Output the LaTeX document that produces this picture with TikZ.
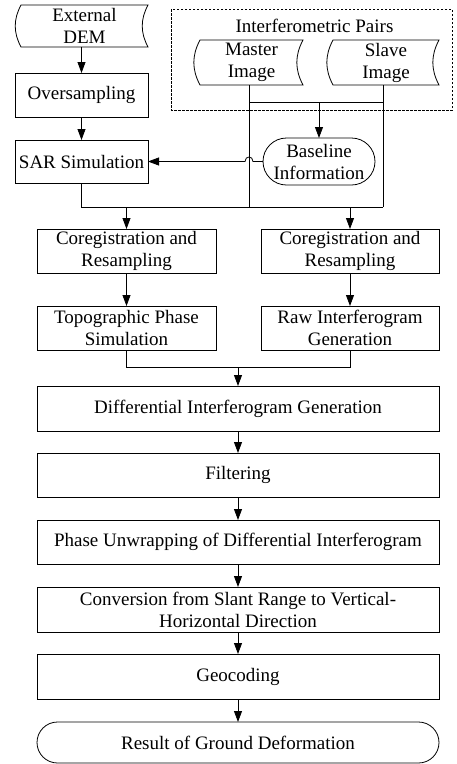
\documentclass[tikz,border=0pt]{standalone}
\usepackage{fontspec}
\setmainfont{Liberation Serif}
\usetikzlibrary{shapes.misc,arrows.meta}
\begin{document}
\begin{tikzpicture}[x=1pt,y=-1pt,
  font=\fontsize{19}{22}\selectfont,
  every node/.style={inner sep=0pt,outer sep=0pt,align=center},
  box/.style={draw,line width=0.8pt,rectangle},
  term/.style={draw,line width=0.8pt,rounded rectangle},
  stored/.style={rectangle},
  ln/.style={line width=0.8pt},
  arr/.style={line width=0.8pt,-{Triangle[length=11pt,width=8pt]}},
  dashbox/.style={line width=0.7pt,dash pattern=on 2.5pt off 1.5pt}]
\useasboundingbox (0,0) rectangle (457,764);
% dashed group
\draw[dashbox] (171,9) rectangle (452,110);
\node (pairs) at (314.5,26) {Interferometric Pairs};
% stored data shapes
\node[stored,minimum width=127pt,minimum height=42pt] (dem) at (84.5,26) {External\\DEM};
\node[stored,minimum width=103pt,minimum height=45pt] (master) at (251.5,62.5) {Master\\Image};
\node[stored,minimum width=106pt,minimum height=45pt] (slave) at (386,62.5) {Slave\\Image};
\foreach \n in {dem,master,slave}{
  \draw[ln] (\n.north west) to[bend right=28] (\n.south west) -- (\n.south east)
     to[bend left=28] (\n.north east) -- cycle;
}
% left column
\node[box,minimum width=133pt,minimum height=44pt] (over) at (81.5,95) {Oversampling};
\node[box,minimum width=133pt,minimum height=43pt] (sar) at (81.5,161.5) {SAR Simulation};
\node[term,minimum width=112pt,minimum height=47pt] (bl) at (319,161.5) {Baseline\\Information};
% two columns
\node[box,minimum width=179pt,minimum height=44pt] (coL) at (126.5,251) {Coregistration and\\Resampling};
\node[box,minimum width=178pt,minimum height=44pt] (coR) at (350,251) {Coregistration and\\Resampling};
\node[box,minimum width=179pt,minimum height=44pt] (topo) at (126.5,328) {Topographic Phase\\Simulation};
\node[box,minimum width=178pt,minimum height=44pt] (raw) at (350,328) {Raw Interferogram\\Generation};
% main column
\node[box,minimum width=402pt,minimum height=45pt] (diff) at (238,408.5) {Differential Interferogram Generation};
\node[box,minimum width=402pt,minimum height=44pt] (filt) at (238,475) {Filtering};
\node[box,minimum width=402pt,minimum height=44pt] (unw) at (238,542) {Phase Unwrapping of Differential Interferogram};
\node[box,minimum width=402pt,minimum height=45pt] (conv) at (238,609.5) {Conversion from Slant Range to Vertical-\\Horizontal Direction};
\node[box,minimum width=402pt,minimum height=45pt] (geo) at (238,676.5) {Geocoding};
\node[term,minimum width=402pt,minimum height=41pt] (res) at (238,742.5) {Result of Ground Deformation};
% connectors top
\draw[arr] (dem.south -| over.north) -- (over.north);
\draw[arr] (over) -- (sar);
\coordinate (mj) at (249,102);
\coordinate (sj) at (383,102);
\coordinate (mb) at (249,207);
\coordinate (sb) at (383,207);
\coordinate (lb) at (81.5,207);
\draw[ln] (mj |- master.south) -- (mb);
\draw[ln] (sj |- slave.south) -- (sb);
\draw[ln] (mj) -- (sj);
\draw[arr] (mj -| bl.north) -- (bl.north);
\coordinate (hopR) at (253,161.5);
\coordinate (hopL) at (245,161.5);
\draw[arr] (bl.west) -- (hopR) .. controls (253,155.5) and (245,155.5) .. (hopL) -- (sar.east);
\draw[ln] (sar.south) -- (lb) -- (sb);
\draw[arr] (lb -| coL.north) -- (coL.north);
\draw[arr] (lb -| coR.north) -- (coR.north);
\draw[arr] (coL) -- (topo);
\draw[arr] (coR) -- (raw);
\coordinate (mg) at (238,367);
\draw[ln] (topo.south) -- (mg -| topo.south) -- (mg -| raw.south) -- (raw.south);
\draw[arr] (mg) -- (diff.north);
\draw[arr] (diff) -- (filt);
\draw[arr] (filt) -- (unw);
\draw[arr] (unw) -- (conv);
\draw[arr] (conv) -- (geo);
\draw[arr] (geo) -- (res);
\end{tikzpicture}
\end{document}
